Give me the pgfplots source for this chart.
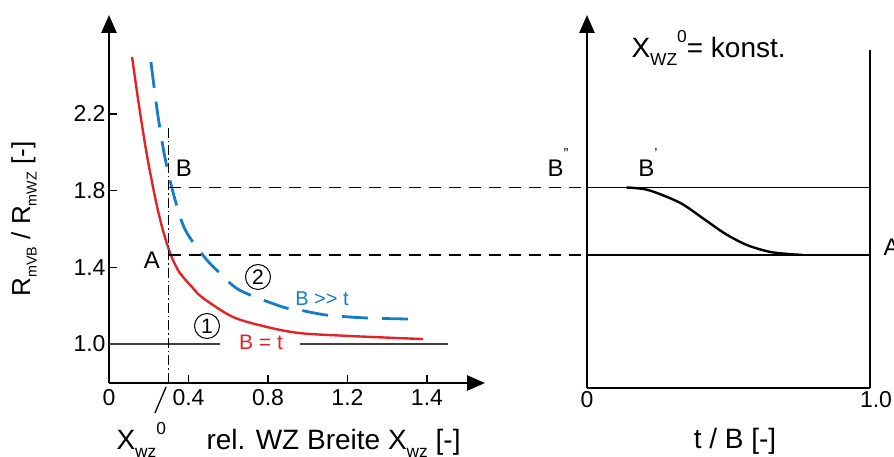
\documentclass[border=0pt]{standalone}
\usepackage{pgfplots}
\pgfplotsset{compat=1.18}
\usepackage{fontspec}
\setmainfont{Liberation Sans}
\usepackage{graphicx}
\usetikzlibrary{arrows.meta}
\definecolor{cred}{RGB}{226,35,40}
\definecolor{cblue}{RGB}{20,125,200}
\newcommand{\fs}[1]{\fontsize{#1bp}{#1bp}\selectfont}
\newcommand{\lsub}[1]{\raisebox{-0.28em}{\scalebox{0.62}{#1}}}
\newcommand{\ssub}[1]{\raisebox{-0.25em}{\scalebox{0.55}{#1}}}
\newcommand{\lsup}[1]{\raisebox{0.55em}{\scalebox{0.62}{#1}}}
\begin{document}
\begin{tikzpicture}[x=1bp,y=1bp]
% ---------------- left panel ----------------
\begin{axis}[
  at={(109bp,74bp)}, anchor=south west, scale only axis,
  width=376bp, height=368bp,
  xmin=0, xmax=1.892, ymin=0.797, ymax=2.716,
  axis lines=left,
  x axis line style={line width=2.6bp, -{Triangle[length=18bp,width=15bp]}},
  y axis line style={line width=2.6bp, -{Triangle[length=18bp,width=15bp]}},
  clip=false,
  xtick={0,0.4,0.8,1.2,1.6}, xticklabels={0,0.4,0.8,1.2,1.4},
  ytick={1.0,1.4,1.8,2.2}, yticklabels={1.0,1.4,1.8,2.2},
  tick align=inside, major tick length=8bp,
  tick style={line width=1.5bp, black},
  ticklabel style={font=\fs{23}},
  xticklabel style={yshift=-3bp},
]
\addplot[cred, line width=2.4bp, smooth] coordinates {
 (0.116,2.497) (0.150,2.250) (0.190,1.990) (0.235,1.750) (0.267,1.610)
 (0.297,1.506) (0.322,1.438) (0.357,1.370) (0.418,1.297) (0.473,1.240)
 (0.624,1.141) (0.795,1.089) (0.961,1.057) (1.213,1.042) (1.580,1.026)};
\addplot[cblue, line width=2.8bp, smooth, dash pattern=on 26bp off 14bp] coordinates {
 (0.211,2.471) (0.245,2.200) (0.280,1.980) (0.320,1.800) (0.367,1.636)
 (0.408,1.553) (0.493,1.438) (0.558,1.370) (0.659,1.280) (0.875,1.193)
 (0.961,1.177) (1.097,1.151) (1.298,1.136) (1.540,1.130)};
\addplot[black!75, line width=1.3bp] coordinates {(0,1) (0.558,1)};
\addplot[black!75, line width=1.3bp] coordinates {(0.961,1) (1.706,1)};
\addplot[black, line width=1.3bp, dash pattern=on 10bp off 3bp on 1.5bp off 3bp] coordinates {(0.3,0.797) (0.3,2.132)};
\addplot[black, line width=1.3bp] coordinates {(0.231,0.64) (0.287,0.776)};
\addplot[black, line width=1.3bp, dash pattern=on 12bp off 8bp] coordinates {(0.3,1.815) (2.405,1.815)};
\addplot[black, line width=1.3bp, dash pattern=on 12bp off 8bp] coordinates {(0.3,1.465) (2.405,1.465)};
\end{axis}
% ---------------- right panel ----------------
\begin{axis}[
  at={(587bp,69bp)}, anchor=south west, scale only axis,
  width=283bp, height=373bp,
  xmin=0, xmax=1, ymin=0.770, ymax=2.716,
  axis x line=bottom, axis y line=left,
  x axis line style={line width=2.6bp, -},
  y axis line style={line width=2.6bp, -{Triangle[length=18bp,width=15bp]}},
  clip=false,
  xtick={0}, xticklabels={0},
  extra x ticks={1}, extra x tick labels={1.0},
  extra x tick style={xticklabel style={xshift=6bp}},
  ytick=\empty, major tick length=0bp,
  ticklabel style={font=\fs{23}},
]
\addplot[black, line width=1.6bp] coordinates {(0,1.815) (1,1.815)};
\addplot[black, line width=1.6bp] coordinates {(0,1.465) (1,1.465)};
\addplot[black, line width=2.6bp] coordinates {(1,0.770) (1,2.534)};
\addplot[black, line width=2.4bp, smooth] coordinates {
 (0.14,1.815) (0.163,1.814) (0.223,1.80) (0.329,1.736) (0.41,1.655)
 (0.488,1.575) (0.565,1.516) (0.647,1.48) (0.728,1.467) (0.76,1.465)};
\end{axis}
% ---------------- texts ----------------
\node[rotate=90, font=\fs{26}] at (24,238) {R\ssub{mVB} / R\ssub{mWZ} [-]};
\node[anchor=base west, font=\fs{28}] at (113,7) {X\lsub{wz}\lsup{0}};
\node[anchor=base west, font=\fs{28}] at (203,7) {rel. WZ Breite X\lsub{wz} [-]};
\node[anchor=base, font=\fs{28}] at (735,8) {t / B [-]};
\node[anchor=base west, font=\fs{28}] at (628,399) {X\lsub{WZ}\lsup{0}= konst.};
\node[font=\fs{24}] at (184,289) {B};
\node[font=\fs{24}] at (152,197) {A};
\node[circle, draw, line width=1bp, inner sep=0pt, minimum size=25bp, font=\fs{21}] at (207,131) {1};
\node[circle, draw, line width=1bp, inner sep=0pt, minimum size=25bp, font=\fs{21}] at (258,180) {2};
\node[text=cred, font=\fs{21}] at (261,115) {B = t};
\node[text=cblue, font=\fs{20}] at (322,158) {B >{}> t};
\node[anchor=base, font=\fs{24}] at (558,280) {B\raisebox{0.75em}{\scalebox{0.6}{''}}};
\node[anchor=base, font=\fs{24}] at (648,280) {B\raisebox{0.75em}{\scalebox{0.6}{'}}};
\node[anchor=west, font=\fs{24}] at (880,210) {A};
\pgfresetboundingbox
\path[use as bounding box] (0,0) rectangle (894,457);
\end{tikzpicture}
\end{document}
